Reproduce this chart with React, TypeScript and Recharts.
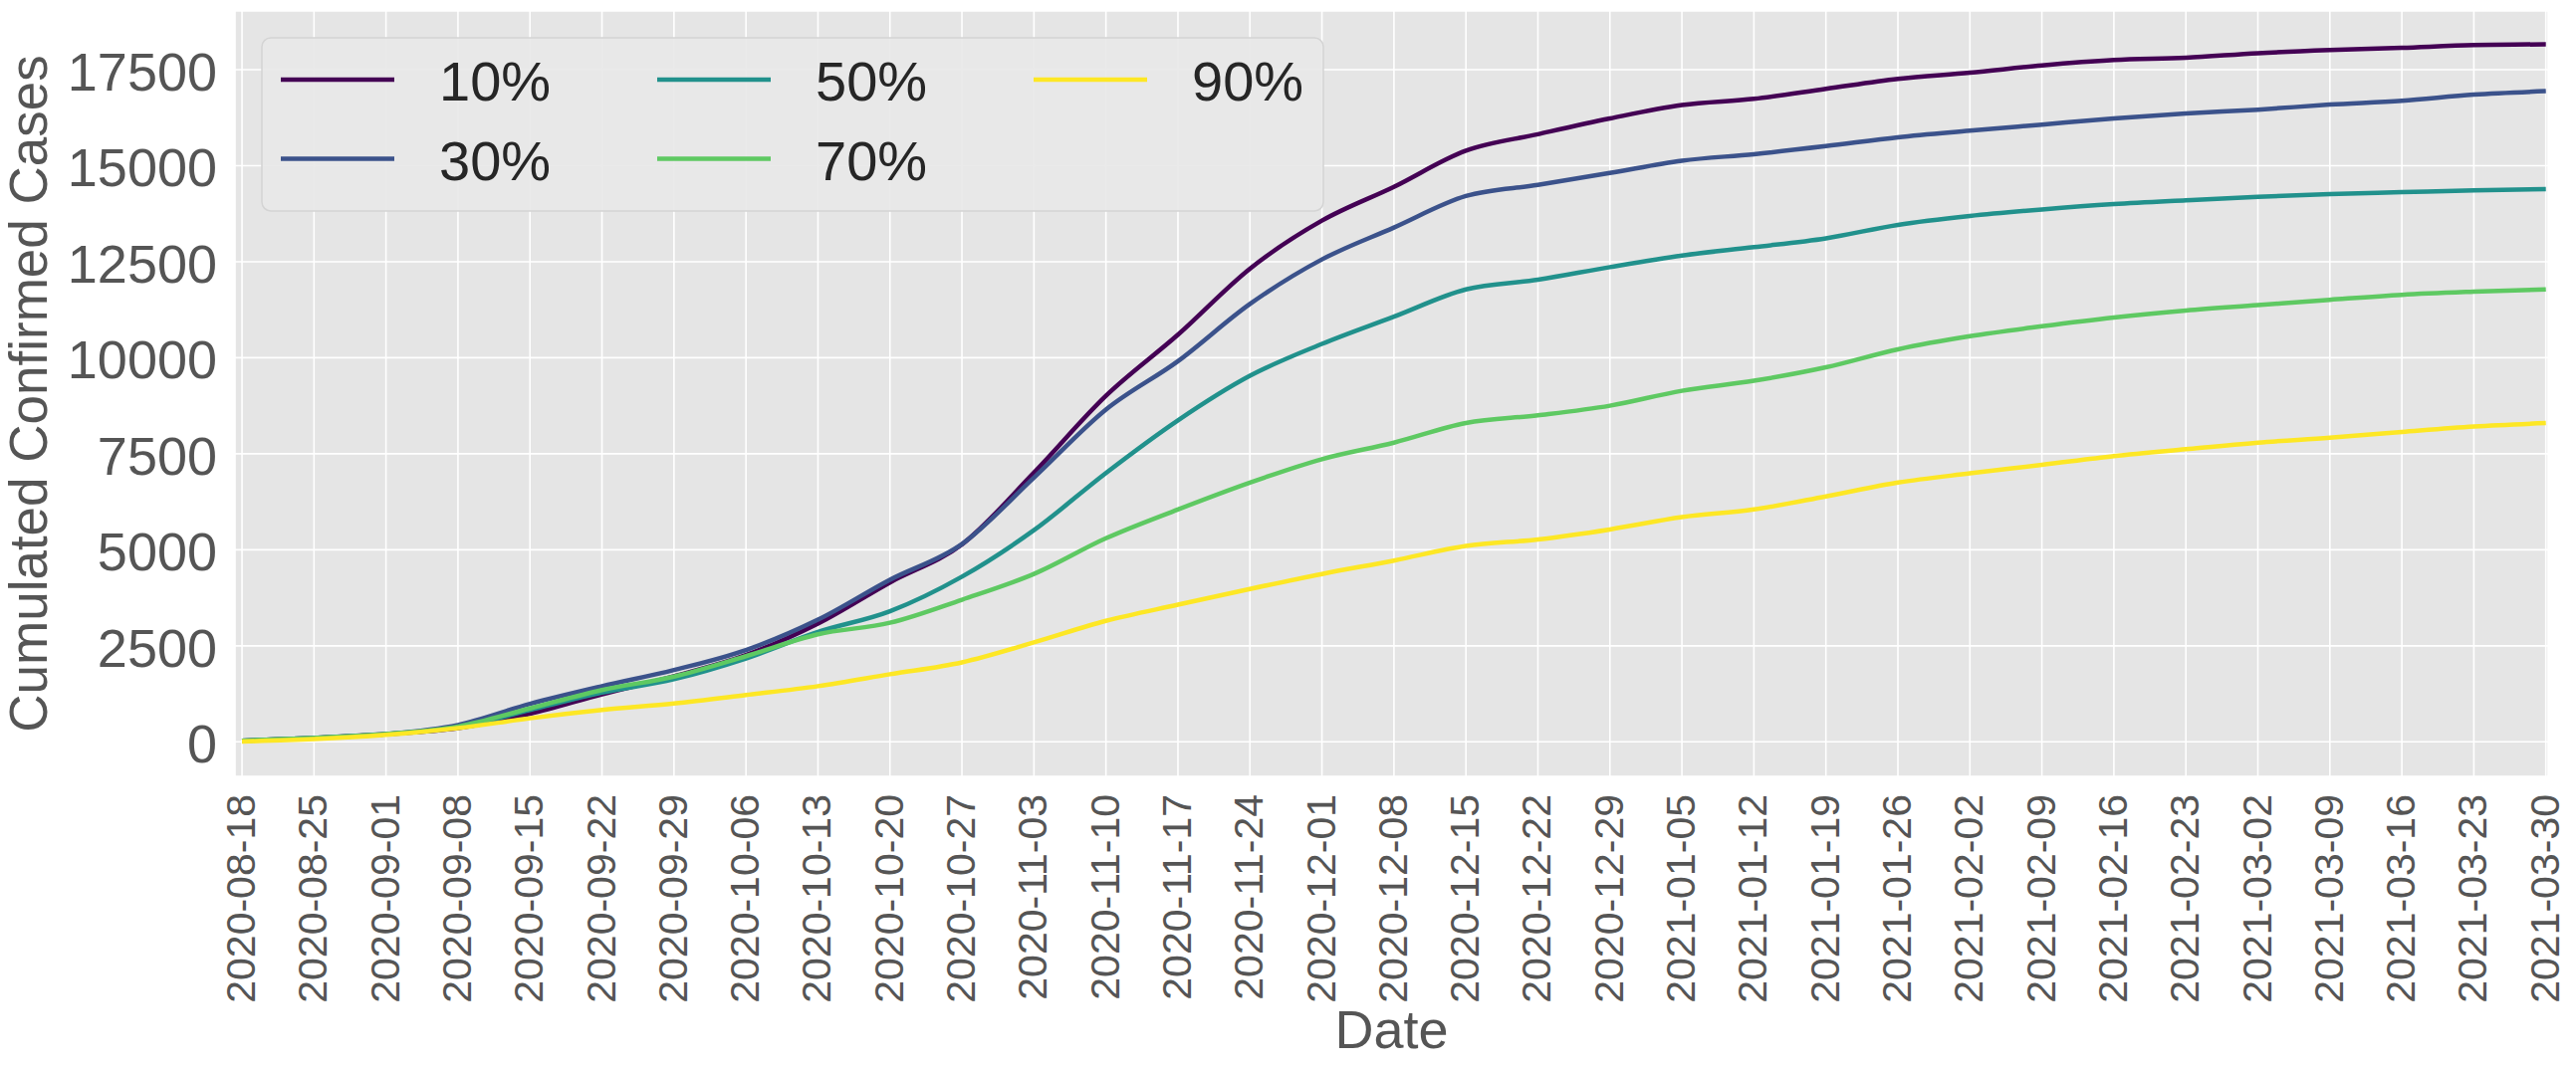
import React from 'react';
import { LineChart, Line, XAxis, YAxis, CartesianGrid } from 'recharts';

// weekly dates shown on the x axis (one reading per tick)
const dates = [
  '2020-08-18', '2020-08-25', '2020-09-01', '2020-09-08', '2020-09-15', '2020-09-22',
  '2020-09-29', '2020-10-06', '2020-10-13', '2020-10-20', '2020-10-27', '2020-11-03',
  '2020-11-10', '2020-11-17', '2020-11-24', '2020-12-01', '2020-12-08', '2020-12-15',
  '2020-12-22', '2020-12-29', '2021-01-05', '2021-01-12', '2021-01-19', '2021-01-26',
  '2021-02-02', '2021-02-09', '2021-02-16', '2021-02-23', '2021-03-02', '2021-03-09',
  '2021-03-16', '2021-03-23', '2021-03-30',
];

const p10 = [
  30, 100, 200, 360, 730, 1240, 1710, 2260, 3080, 4150, 5140, 7010, 9010, 10600, 12320, 13570, 14450, 15390,
  15820, 16230, 16580, 16740, 17000, 17260, 17420, 17610, 17750, 17810, 17930, 18010, 18070, 18140, 18160,
];
const p30 = [
  30, 100, 200, 440, 990, 1450, 1870, 2390, 3180, 4220, 5150, 6880, 8650, 9910, 11400, 12560, 13390, 14210,
  14500, 14810, 15130, 15300, 15510, 15740, 15910, 16070, 16230, 16360, 16460, 16590, 16690, 16850, 16940,
];
const p50 = [
  30, 100, 200, 380, 830, 1280, 1630, 2170, 2860, 3400, 4300, 5510, 7000, 8370, 9530, 10360, 11070, 11780,
  12030, 12360, 12660, 12880, 13110, 13460, 13690, 13860, 14000, 14100, 14190, 14260, 14310, 14360, 14390,
];
const p70 = [
  30, 100, 200, 400, 870, 1350, 1700, 2230, 2800, 3100, 3700, 4370, 5300, 6050, 6750, 7360, 7790, 8300,
  8500, 8750, 9140, 9400, 9750, 10220, 10560, 10820, 11050, 11230, 11370, 11510, 11640, 11720, 11780,
];
const p90 = [
  10, 70, 180, 355, 614, 830, 1000, 1220, 1450, 1760, 2070, 2590, 3150, 3570, 3980, 4370, 4720, 5100,
  5270, 5530, 5850, 6050, 6390, 6750, 6990, 7210, 7440, 7620, 7790, 7920, 8070, 8210, 8300,
];

const seriesKeys = ['p10', 'p30', 'p50', 'p70', 'p90'];
const seriesNames = ['10%', '30%', '50%', '70%', '90%'];
const seriesColors = ['#440154', '#3b528b', '#21918c', '#5ec962', '#fde725'];
const yTicks = [0, 2500, 5000, 7500, 10000, 12500, 15000, 17500];

const FONT = '"Liberation Sans", Arial, sans-serif';
const W = 2587;
const H = 1073;
const PLOT_LEFT = 236;
const PLOT_TOP = 11;
const PLOT_RIGHT = 2559;
const PLOT_BOTTOM = 780;

const DAY_MS = 86400000;
const t0 = Date.parse(dates[0]);
const dayOf = (d: string) => Math.round((Date.parse(d) - t0) / DAY_MS);
const xTicks = dates.map(dayOf);
const dateByDay: Record<number, string> = {};
dates.forEach((d) => { dateByDay[dayOf(d)] = d; });

const chartData = dates.map((d, i) => ({
  day: dayOf(d),
  p10: p10[i],
  p30: p30[i],
  p50: p50[i],
  p70: p70[i],
  p90: p90[i],
}));

const XTick = (props: any) => {
  const bx = props.x + 13;
  const by = PLOT_BOTTOM + 18;
  return (
    <text x={bx} y={by} transform={`rotate(-90, ${bx}, ${by})`} textAnchor="end"
      fill="#555555" fontSize={41} fontFamily={FONT}>
      {dateByDay[props.payload.value]}
    </text>
  );
};

const YTick = (props: any) => (
  <text x={PLOT_LEFT - 18} y={props.y + 21} textAnchor="end" fill="#555555" fontSize={54} fontFamily={FONT}>
    {props.payload.value}
  </text>
);

const YLabel = (props: any) => {
  const vb = props.viewBox;
  const x = 47;
  const y = vb.y + vb.height / 2;
  return (
    <text x={x} y={y} transform={`rotate(-90, ${x}, ${y})`} textAnchor="middle"
      fill="#555555" fontSize={53} fontFamily={FONT}>
      Cumulated Confirmed Cases
    </text>
  );
};

const XLabel = (props: any) => {
  const vb = props.viewBox;
  return (
    <text x={vb.x + vb.width / 2} y={1053} textAnchor="middle" fill="#555555" fontSize={54} fontFamily={FONT}>
      Date
    </text>
  );
};

// matplotlib-style legend box, 3 columns x 2 rows (column-major)
const LegendBox = () => (
  <svg width={W} height={H} style={{ position: 'absolute', left: 0, top: 0, pointerEvents: 'none' }}>
    <rect x={263} y={38} width={1066} height={174} rx={9} fill="#E8E8E8" fillOpacity={0.9} stroke="#D4D4D4" strokeWidth={1.5} />
    {seriesNames.map((name, i) => {
      const col = Math.floor(i / 2);
      const row = i % 2;
      const x0 = 282 + col * 378;
      const y = 80 + row * 79.5;
      return (
        <g key={name}>
          <line x1={x0} x2={x0 + 114} y1={y} y2={y} stroke={seriesColors[i]} strokeWidth={4.5} />
          <text x={x0 + 159} y={y + 21} fill="#262626" fontSize={56} fontFamily={FONT}>{name}</text>
        </g>
      );
    })}
  </svg>
);

export default function App() {
  return (
    <div style={{ position: 'absolute', left: 0, top: 0, width: W, height: H, background: '#ffffff' }}>
      <LineChart width={W} height={H} data={chartData}
        margin={{ top: PLOT_TOP, right: W - PLOT_RIGHT, left: 0, bottom: 0 }}>
        <CartesianGrid stroke="#ffffff" strokeWidth={1.6} fill="#E5E5E5" fillOpacity={1} />
        <XAxis dataKey="day" type="number" domain={[-0.68, 224.22]} ticks={xTicks} interval={0}
          allowDataOverflow axisLine={false} tickLine={false} height={H - PLOT_BOTTOM}
          tick={<XTick />} label={<XLabel />} />
        <YAxis type="number" domain={[-899, 19029]} ticks={yTicks} interval={0} allowDataOverflow
          axisLine={false} tickLine={false} width={PLOT_LEFT} tick={<YTick />} label={<YLabel />} />
        {seriesKeys.map((k, i) => (
          <Line key={k} type="monotone" dataKey={k} name={seriesNames[i]} stroke={seriesColors[i]}
            strokeWidth={4.5} dot={false} activeDot={false} isAnimationActive={false} />
        ))}
      </LineChart>
      <LegendBox />
    </div>
  );
}
